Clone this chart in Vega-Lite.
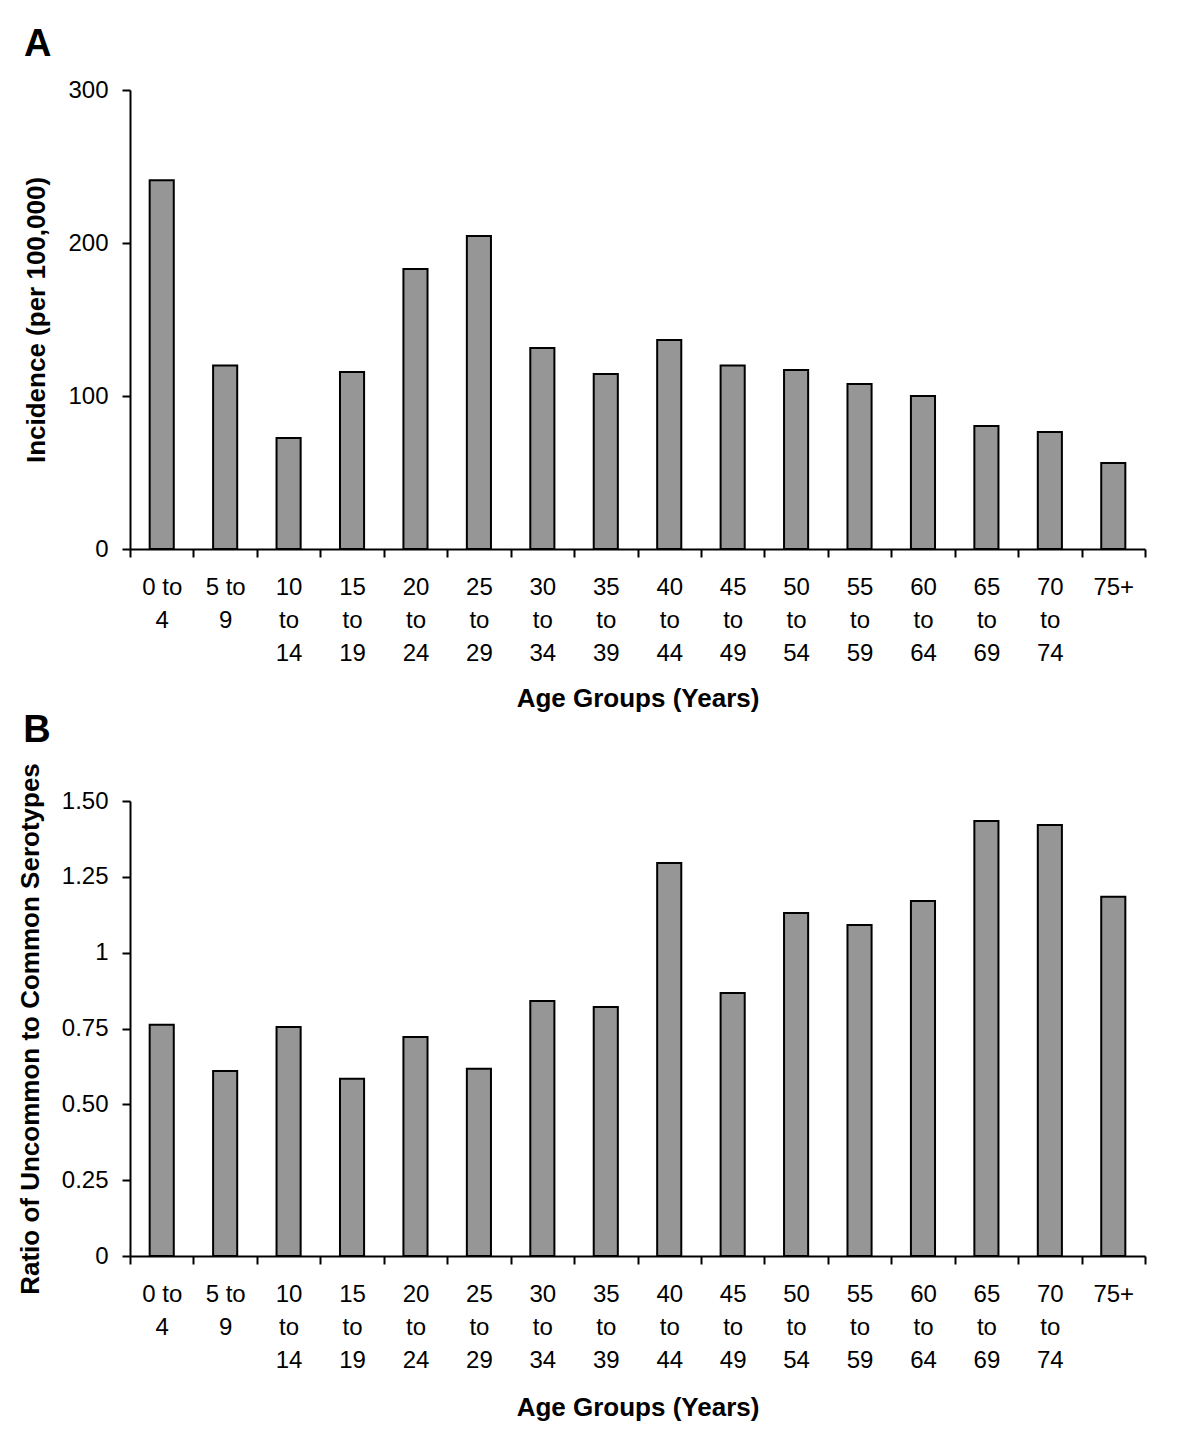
{
  "$schema": "https://vega.github.io/schema/vega-lite/v6.json",
  "background": "white",
  "padding": {"top": 26, "left": 17, "right": 10, "bottom": 10},
  "spacing": 0,
  "config": {
    "font": "Liberation Sans",
    "view": {"stroke": null},
    "axis": {
      "grid": false,
      "domainColor": "black",
      "domainWidth": 2,
      "tickColor": "black",
      "tickWidth": 2,
      "tickSize": 8,
      "labelColor": "black",
      "labelFont": "Liberation Sans",
      "labelFontSize": 24,
      "titleFont": "Liberation Sans",
      "titleFontSize": 26,
      "titleFontWeight": "bold",
      "titleColor": "black"
    },
    "title": {"font": "Liberation Sans", "fontSize": 38, "fontWeight": "bold", "color": "black", "anchor": "start", "baseline": "alphabetic"}
  },
  "datasets": {
    "incidence": [
      {"age": "0 to 4", "value": 241},
      {"age": "5 to 9", "value": 120},
      {"age": "10 to 14", "value": 72.5},
      {"age": "15 to 19", "value": 115.7},
      {"age": "20 to 24", "value": 183},
      {"age": "25 to 29", "value": 204.6},
      {"age": "30 to 34", "value": 131.4},
      {"age": "35 to 39", "value": 114.4},
      {"age": "40 to 44", "value": 136.6},
      {"age": "45 to 49", "value": 120},
      {"age": "50 to 54", "value": 117},
      {"age": "55 to 59", "value": 107.8},
      {"age": "60 to 64", "value": 100},
      {"age": "65 to 69", "value": 80.4},
      {"age": "70 to 74", "value": 76.5},
      {"age": "75+", "value": 56.2}
    ],
    "ratio": [
      {"age": "0 to 4", "value": 0.762},
      {"age": "5 to 9", "value": 0.61},
      {"age": "10 to 14", "value": 0.755},
      {"age": "15 to 19", "value": 0.584},
      {"age": "20 to 24", "value": 0.722},
      {"age": "25 to 29", "value": 0.617},
      {"age": "30 to 34", "value": 0.841},
      {"age": "35 to 39", "value": 0.821},
      {"age": "40 to 44", "value": 1.296},
      {"age": "45 to 49", "value": 0.867},
      {"age": "50 to 54", "value": 1.131},
      {"age": "55 to 59", "value": 1.091},
      {"age": "60 to 64", "value": 1.17},
      {"age": "65 to 69", "value": 1.434},
      {"age": "70 to 74", "value": 1.421},
      {"age": "75+", "value": 1.184}
    ]
  },
  "vconcat": [
    {
      "width": 1015,
      "height": 459,
      "title": {"text": "A", "dx": 0, "offset": 14},
      "data": {"name": "incidence"},
      "mark": {"type": "bar", "color": "#969696", "stroke": "black", "strokeWidth": 2, "width": {"band": 0.38}},
      "encoding": {
        "x": {
          "field": "age", "type": "nominal", "sort": null,
          "scale": {"paddingInner": 0, "paddingOuter": 0},
          "axis": {
            "title": "Age Groups (Years)",
            "labelAngle": 0,
            "tickBand": "extent",
            "labelPadding": 18,
            "labelLineHeight": 33,
            "titlePadding": 20,
            "labelExpr": "!isValid(datum.value) ? '' : datum.value == '0 to 4' ? ['0 to', '4'] : datum.value == '5 to 9' ? ['5 to', '9'] : split(datum.value, ' ')"
          }
        },
        "y": {
          "field": "value", "type": "quantitative",
          "scale": {"domain": [0, 300], "nice": false},
          "axis": {
            "title": "Incidence (per 100,000)",
            "values": [0, 100, 200, 300],
            "labelPadding": 14,
            "titlePadding": 18
          }
        }
      }
    },
    {
      "width": 1015,
      "height": 455,
      "title": {"text": "B", "dx": 6, "offset": 13},
      "data": {"name": "ratio"},
      "mark": {"type": "bar", "color": "#969696", "stroke": "black", "strokeWidth": 2, "width": {"band": 0.38}},
      "encoding": {
        "x": {
          "field": "age", "type": "nominal", "sort": null,
          "scale": {"paddingInner": 0, "paddingOuter": 0},
          "axis": {
            "title": "Age Groups (Years)",
            "labelAngle": 0,
            "tickBand": "extent",
            "labelPadding": 18,
            "labelLineHeight": 33,
            "titlePadding": 22,
            "labelExpr": "!isValid(datum.value) ? '' : datum.value == '0 to 4' ? ['0 to', '4'] : datum.value == '5 to 9' ? ['5 to', '9'] : split(datum.value, ' ')"
          }
        },
        "y": {
          "field": "value", "type": "quantitative",
          "scale": {"domain": [0, 1.5], "nice": false},
          "axis": {
            "title": "Ratio of Uncommon to Common Serotypes",
            "values": [0, 0.25, 0.5, 0.75, 1, 1.25, 1.5],
            "labelExpr": "datum.value == 0 ? '0' : datum.value == 1 ? '1' : format(datum.value, '.2f')",
            "labelPadding": 14,
            "titlePadding": 18
          }
        }
      }
    }
  ]
}
